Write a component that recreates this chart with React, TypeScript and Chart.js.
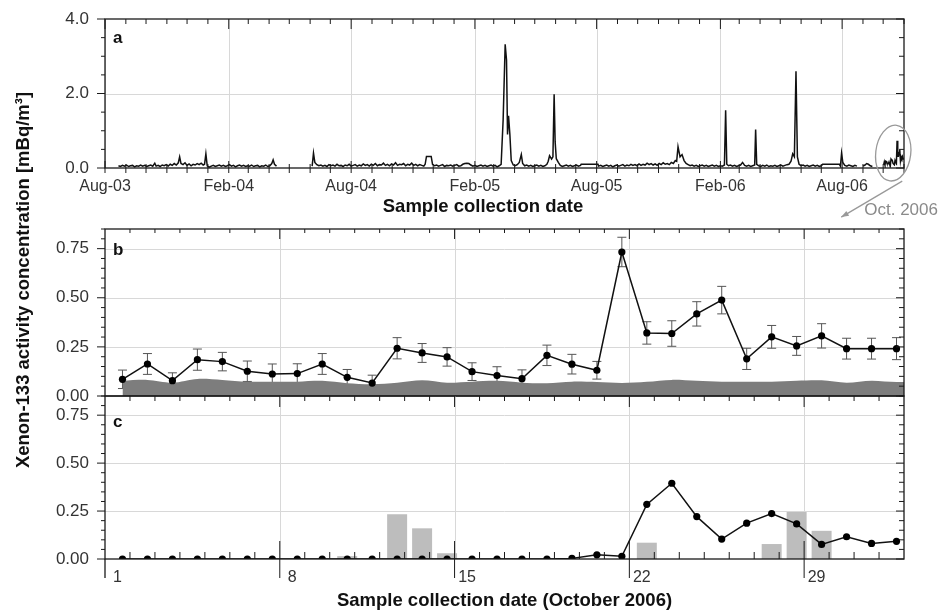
import React, { useEffect, useRef } from 'react';
import { Chart, registerables } from 'chart.js';

Chart.register(...registerables);

const W = 940;
const H = 612;

// ---------------- data ----------------
// Panel a: [days since 1 Aug 2003, Xe-133 activity mBq/m3]; null = gap in record
const panelA: [number, number | null][] = [
  [20,.06],[23,.04],[26,.07],[29,.05],[32,.08],[35,.04],[38,.06],[41,.07],[44,.03],[47,.06],[50,.05],[53,.08],[56,.05],[59,.07],[62,.04],[65,.06],[68,.08],[71,.05],[74,.13],[76,.05],[79,.07],[82,.04],[85,.08],[88,.06],[91,.09],[94,.05],[97,.1],[100,.07],[103,.12],[106,.08],[109,.14],[111,.3],[113,.12],[116,.09],[119,.14],[122,.07],[125,.11],[128,.06],[131,.1],[134,.08],[137,.12],[140,.09],[143,.13],[146,.08],[148,.1],[150,.38],[152,.06],[155,.02],[158,.05],[161,.07],[164,.04],[167,.06],[170,.08],[173,.05],[176,.07],[179,.04],[182,.06],[185,.09],[188,.05],[191,.07],[194,.03],[197,.06],[200,.08],[203,.05],[206,.07],[209,.04],[212,.06],[215,.05],[218,.08],[221,.04],[224,.06],[227,.07],[230,.03],[233,.06],[236,.05],[239,.08],[242,.04],[245,.06],[248,.12],[250,.22],[252,.1],[255,.05],[256,null],
  [308,.05],[310,.4],[312,.15],[315,.09],[318,.06],[321,.08],[324,.05],[327,.07],[330,.04],[333,.09],[336,.06],[339,.08],[342,.05],[345,.1],[348,.06],[351,.07],[354,.04],[357,.08],[360,.06],[363,.1],[366,.05],[369,.07],[372,.09],[375,.05],[378,.08],[381,.06],[384,.11],[387,.07],[390,.09],[393,.05],[396,.1],[399,.07],[402,.12],[405,.06],[408,.09],[411,.08],[414,.13],[417,.07],[420,.1],[423,.06],[426,.11],[429,.08],[432,.14],[435,.07],[438,.1],[441,.09],[444,.12],[447,.06],[450,.1],[453,.08],[456,.13],[459,.07],[462,.1],[465,.06],[468,.09],[471,.07],[474,.05],[476,.1],[478,.31],[485,.31],[487,.1],[490,.06],[493,.08],[496,.05],[499,.07],[502,.09],[505,.04],[508,.07],[511,.06],[514,.08],[517,.05],[520,.07],[523,.09],[526,.05],[529,.06],[532,.1],[535,.12],[538,.13],[541,.12],[544,.08],[547,.05],[550,.07],[553,.04],[556,.06],[559,.08],[562,.05],[565,.07],[568,.04],[571,.06],[574,.08],[577,.05],[580,.07],[583,.03],[586,.06],[589,.1],[592,1.3],[595,3.32],[597,2.9],[598.5,.9],[600,1.4],[602,.9],[604,.2],[607,.08],[610,.06],[613,.09],[616,.15],[619,.36],[621,.12],[624,.06],[627,.08],[630,.05],[633,.07],[636,.04],[639,.06],[642,.08],[645,.05],[648,.07],[651,.04],[654,.06],[657,.1],[659,.18],[661,.33],[664,.24],[666,.3],[667.8,1.98],[669.3,.7],[671,.25],[674,.15],[677,.07],[680,.04],[683,.06],[686,.08],[689,.05],[692,.07],[695,.04],[698,.06],[701,.08],[704,.05],[707,.07],[708,.1],[733,.1],[734,.05],[737,.07],[740,.04],[743,.06],[746,.08],[749,.05],[752,.07],[755,.03],[758,.06],[761,.08],[764,.05],[767,.07],[770,.09],[773,.05],[776,.08],[779,.06],[782,.1],[785,.07],[788,.09],[791,.06],[794,.11],[797,.07],[800,.1],[803,.08],[806,.13],[809,.09],[812,.12],[815,.08],[818,.11],[821,.07],[824,.12],[827,.09],[830,.14],[833,.1],[836,.12],[839,.09],[842,.15],[845,.12],[848,.2],[850,.18],[852,.57],[855,.3],[858,.36],[861,.2],[864,.12],[867,.09],[870,.06],[873,.08],[876,.05],[879,.07],[882,.04],[885,.06],[888,.08],[891,.05],[894,.07],[897,.04],[900,.06],[903,.08],[906,.05],[909,.07],[912,.04],[915,.06],[918,.05],[921,.08],[922.8,1.55],[924.5,.1],[927,.06],[930,.08],[933,.05],[936,.07],[939,.04],[942,.06],[945,.08],[948,.15],[951,.07],[954,.05],[957,.07],[960,.04],[963,.06],[966,.08],[967.4,1.03],[969,.1],[972,.06],[975,.04],[978,.07],[981,.05],[984,.08],[987,.04],[990,.06],[993,.05],[996,.07],[999,.04],[1002,.06],[1005,.08],[1008,.05],[1011,.07],[1014,.09],[1017,.1],[1020,.18],[1022.5,.38],[1025,.3],[1027.4,2.6],[1029.5,.3],[1032,.1],[1035,.06],[1038,.08],[1041,.05],[1044,.07],[1047,.04],[1050,.06],[1053,.08],[1056,.05],[1059,.07],[1062,.04],[1065,.06],[1067,.1],[1092,.1],[1093.5,.05],[1095.2,.4],[1097,.15],[1100,.07],[1103,.05],[1106,.08],[1109,.06],[1112,.04],[1115,.07],[1118,.05],[1119,null],
  [1127,.05],[1130,.08],[1132.5,.12],[1135,.1],[1138,.06],[1141,.04],[1142,null],
];

// October 2006 daily samples (panels b and c)
const octDays = [1,2,3,4,5,6,7,8,9,10,11,12,13,14,15,16,17,18,19,20,21,22,23,24,25,26,27,28,29,30,31,32];
const bValues = [0.085,0.163,0.078,0.185,0.175,0.126,0.112,0.114,0.163,0.095,0.066,0.243,0.219,0.199,0.124,0.104,0.088,0.207,0.162,0.131,0.733,0.321,0.318,0.418,0.488,0.189,0.301,0.255,0.306,0.241,0.241,0.241];
const bErrors = [0.047,0.053,0.04,0.054,0.047,0.052,0.051,0.05,0.053,0.04,0.04,0.054,0.048,0.047,0.045,0.045,0.045,0.052,0.05,0.045,0.075,0.057,0.065,0.062,0.07,0.054,0.058,0.048,0.062,0.053,0.053,0.056];
const mdcDays = [1,2,3,4,5,6,7,8,9,10,11,12,13,14,15,16,17,18,19,20,21,22,23,24,25,26,27,28,29,30,31,32,33];
const mdcValues = [0.078,0.082,0.068,0.087,0.082,0.073,0.073,0.073,0.077,0.065,0.06,0.068,0.08,0.068,0.073,0.077,0.068,0.065,0.073,0.071,0.066,0.072,0.082,0.077,0.073,0.073,0.073,0.078,0.08,0.068,0.078,0.071,0.072];
const cValues = [0,0,0,0,0,0,0,0,0,0,0,0,0,0,0,0,0,0,0.003,0.022,0.014,0.285,0.395,0.221,0.104,0.187,0.237,0.183,0.076,0.116,0.081,0.092];
const cBars = [0,0,0,0,0,0,0,0,0,0.015,0,0.233,0.16,0.03,0,0,0,0,0,0,0,0.085,0,0,0,0,0.078,0.245,0.147,0,0,0];

// tick labels
const aTickLabels = ['Aug-03','Feb-04','Aug-04','Feb-05','Aug-05','Feb-06','Aug-06'];
const aTickDates: [number, number][] = [[2003,7],[2004,1],[2004,7],[2005,1],[2005,7],[2006,1],[2006,7]];
const aYTickValues = [0, 2, 4];
const aYTickLabels = ['0.0', '2.0', '4.0'];
const octTickDays = [1, 8, 15, 22, 29];
const octTickLabels = ['1', '8', '15', '22', '29'];
const bcYTickValues = [0, 0.25, 0.5, 0.75];
const bcYTickLabels = ['0.00', '0.25', '0.50', '0.75'];

// ---------------- layout / style ----------------
const LEFT = 105, RIGHT = 904;
const A_TOP = 19, A_BOTTOM = 168;
const B_TOP = 229, B_BOTTOM = 396;
const C_TOP = 396, C_BOTTOM = 559;
const SAMPLE_OFFSET = 0.7; // samples plotted at collection time within the day
const FONT = '"Liberation Sans", Arial, sans-serif';
const AXIS = '#1a1a1a';
const GRID = '#d8d8d8';
const LABEL = '#333333';

const ORIGIN = Date.UTC(2003, 7, 1);
const dayOf = (y: number, m: number, d: number) => (Date.UTC(y, m, d) - ORIGIN) / 86400000;
const A_MAX = dayOf(2006, 10, 1);
const OCT_START = dayOf(2006, 9, 1) - 1;

const monthTicks: { v: number; major: boolean }[] = [];
for (let y = 2003, m = 7; ; ) {
  const v = dayOf(y, m, 1);
  if (v > A_MAX + 0.5) break;
  monthTicks.push({ v, major: m === 1 || m === 7 });
  m++;
  if (m > 11) { m = 0; y++; }
}

function seg(ctx: CanvasRenderingContext2D, x1: number, y1: number, x2: number, y2: number) {
  ctx.beginPath();
  ctx.moveTo(x1, y1);
  ctx.lineTo(x2, y2);
  ctx.stroke();
}

function drawGrid(chart: any, xs: number[], ys: number[]) {
  const { ctx, chartArea: ca, scales } = chart;
  ctx.save();
  ctx.strokeStyle = GRID;
  ctx.lineWidth = 1;
  xs.forEach((v) => {
    const px = Math.round(scales.x.getPixelForValue(v)) + 0.5;
    seg(ctx, px, ca.top, px, ca.bottom);
  });
  ys.forEach((v) => {
    const py = Math.round(scales.y.getPixelForValue(v)) + 0.5;
    seg(ctx, ca.left, py, ca.right, py);
  });
  ctx.restore();
}

function drawYTicks(ctx: CanvasRenderingContext2D, y: any, ca: any, step: number, majorEvery: number, max: number) {
  for (let i = 0; i * step <= max + 1e-9; i++) {
    const py = y.getPixelForValue(i * step);
    const major = i % majorEvery === 0;
    seg(ctx, ca.left - (major ? 8 : 4), py, ca.left, py);
    seg(ctx, ca.right, py, ca.right - (major ? 8 : 5), py);
  }
}

function drawYLabels(ctx: CanvasRenderingContext2D, y: any, ca: any, values: number[], labels: string[]) {
  ctx.font = `17px ${FONT}`;
  ctx.fillStyle = LABEL;
  ctx.textAlign = 'right';
  ctx.textBaseline = 'middle';
  values.forEach((v, i) => ctx.fillText(labels[i], ca.left - 16, y.getPixelForValue(v)));
}

function drawLetter(ctx: CanvasRenderingContext2D, letter: string, x: number, baseline: number) {
  ctx.font = `bold 17px ${FONT}`;
  ctx.fillStyle = '#111';
  ctx.textAlign = 'left';
  ctx.textBaseline = 'alphabetic';
  ctx.fillText(letter, x, baseline);
}

function baseOptions(top: number, bottom: number, xMin: number, xMax: number, yMax: number): any {
  return {
    animation: false,
    responsive: false,
    devicePixelRatio: 1,
    events: [],
    layout: { padding: { left: LEFT, right: W - RIGHT, top, bottom: H - bottom } },
    scales: {
      x: { type: 'linear', min: xMin, max: xMax, offset: false, display: false },
      y: { type: 'linear', min: 0, max: yMax, display: false },
    },
    plugins: { legend: { display: false }, tooltip: { enabled: false } },
  };
}

// ---------------- panel a ----------------
function makeA(canvas: HTMLCanvasElement) {
  const frame = {
    id: 'frameA',
    beforeDatasetsDraw(chart: any) {
      drawGrid(chart, aTickDates.map(([y, m]) => dayOf(y, m, 1)), [2]);
    },
    afterDatasetsDraw(chart: any) {
      const { ctx, chartArea: ca, scales: { x, y } } = chart;
      ctx.save();
      ctx.strokeStyle = AXIS;
      ctx.lineWidth = 1.3;
      ctx.strokeRect(ca.left, ca.top, ca.right - ca.left, ca.bottom - ca.top);
      ctx.lineWidth = 1;
      monthTicks.forEach((t) => {
        const px = x.getPixelForValue(t.v);
        seg(ctx, px, ca.top, px, ca.top + (t.major ? 10 : 5));
        seg(ctx, px, ca.bottom - (t.major ? 7 : 4), px, ca.bottom + 5);
      });
      drawYTicks(ctx, y, ca, 0.5, 4, 4);
      drawYLabels(ctx, y, ca, aYTickValues, aYTickLabels);
      ctx.font = `16px ${FONT}`;
      ctx.fillStyle = LABEL;
      ctx.textAlign = 'center';
      ctx.textBaseline = 'middle';
      aTickDates.forEach(([yy, m], i) => ctx.fillText(aTickLabels[i], x.getPixelForValue(dayOf(yy, m, 1)), ca.bottom + 19));
      ctx.font = `bold 18.5px ${FONT}`;
      ctx.fillStyle = '#111';
      ctx.fillText('Sample collection date', 483, ca.bottom + 39);
      drawLetter(ctx, 'a', ca.left + 8, ca.top + 24);

      // October 2006 highlight
      const cx = x.getPixelForValue(OCT_START + 16);
      const cy = y.getPixelForValue(0.4);
      ctx.strokeStyle = '#999';
      ctx.fillStyle = '#999';
      ctx.lineWidth = 1.3;
      ctx.beginPath();
      ctx.ellipse(cx, cy, 17.5, 28, 0.12, 0, Math.PI * 2);
      ctx.stroke();
      const x1 = cx + 9, y1 = cy + 28, x2 = cx - 52, y2 = cy + 64;
      seg(ctx, x1, y1, x2, y2);
      const ang = Math.atan2(y2 - y1, x2 - x1);
      ctx.beginPath();
      ctx.moveTo(x2, y2);
      ctx.lineTo(x2 - 8 * Math.cos(ang - 0.35), y2 - 8 * Math.sin(ang - 0.35));
      ctx.lineTo(x2 - 8 * Math.cos(ang + 0.35), y2 - 8 * Math.sin(ang + 0.35));
      ctx.closePath();
      ctx.fill();
      ctx.font = `17px ${FONT}`;
      ctx.fillStyle = '#8a8a8a';
      ctx.textAlign = 'left';
      ctx.textBaseline = 'middle';
      ctx.fillText('Oct. 2006', cx - 29, cy + 57);
      ctx.restore();
    },
  };
  const style = { borderColor: '#111', borderWidth: 1.5, pointRadius: 0, tension: 0, spanGaps: false, fill: false };
  return new Chart(canvas, {
    type: 'line',
    data: {
      datasets: [
        { ...style, data: panelA.map(([d, v]) => ({ x: d, y: v })) },
        { ...style, data: octDays.map((d, i) => ({ x: OCT_START + d + SAMPLE_OFFSET, y: bValues[i] })) },
      ],
    } as any,
    options: baseOptions(A_TOP, A_BOTTOM, 0, A_MAX, 4),
    plugins: [frame],
  });
}

// ---------------- panel b ----------------
function makeB(canvas: HTMLCanvasElement) {
  const frame = {
    id: 'frameB',
    beforeDatasetsDraw(chart: any) {
      drawGrid(chart, [8, 15, 22, 29], [0.25, 0.5, 0.75]);
      const { ctx, scales: { x, y } } = chart;
      ctx.save();
      ctx.strokeStyle = '#555';
      ctx.lineWidth = 1;
      octDays.forEach((d, i) => {
        const px = x.getPixelForValue(d + SAMPLE_OFFSET);
        const y1 = y.getPixelForValue(bValues[i] + bErrors[i]);
        const y2 = y.getPixelForValue(bValues[i] - bErrors[i]);
        seg(ctx, px, y1, px, y2);
        seg(ctx, px - 4.5, y1, px + 4.5, y1);
        seg(ctx, px - 4.5, y2, px + 4.5, y2);
      });
      ctx.restore();
    },
    afterDatasetsDraw(chart: any) {
      const { ctx, chartArea: ca, scales: { x, y } } = chart;
      ctx.save();
      ctx.strokeStyle = AXIS;
      ctx.lineWidth = 1.3;
      ctx.strokeRect(ca.left, ca.top, ca.right - ca.left, ca.bottom - ca.top);
      ctx.lineWidth = 1;
      for (let d = 2; d <= 32; d++) {
        const px = x.getPixelForValue(d);
        const major = octTickDays.includes(d);
        seg(ctx, px, ca.top, px, ca.top + (major ? 10 : 4));
      }
      drawYTicks(ctx, y, ca, 0.05, 5, 0.85);
      drawYLabels(ctx, y, ca, bcYTickValues, bcYTickLabels);
      drawLetter(ctx, 'b', ca.left + 8, ca.top + 26);
      ctx.restore();
    },
  };
  return new Chart(canvas, {
    type: 'line',
    data: {
      datasets: [
        {
          data: octDays.map((d, i) => ({ x: d + SAMPLE_OFFSET, y: bValues[i] })),
          borderColor: '#111', borderWidth: 1.5, pointRadius: 3.6, pointBackgroundColor: '#000',
          pointBorderColor: '#000', pointBorderWidth: 0, tension: 0, fill: false, order: 1,
        },
        {
          data: mdcDays.map((d, i) => ({ x: d + SAMPLE_OFFSET, y: mdcValues[i] })),
          borderColor: 'rgba(0,0,0,0)', borderWidth: 0, backgroundColor: '#7d7d7d',
          pointRadius: 0, tension: 0.3, fill: 'origin', order: 3,
        },
      ],
    } as any,
    options: baseOptions(B_TOP, B_BOTTOM, 1, 33, 0.85),
    plugins: [frame],
  });
}

// ---------------- panel c ----------------
function makeC(canvas: HTMLCanvasElement) {
  const frame = {
    id: 'frameC',
    beforeDatasetsDraw(chart: any) {
      drawGrid(chart, [8, 15, 22, 29], [0.25, 0.5, 0.75]);
    },
    afterDatasetsDraw(chart: any) {
      const { ctx, chartArea: ca, scales: { x, y } } = chart;
      ctx.save();
      ctx.strokeStyle = AXIS;
      ctx.lineWidth = 1.3;
      ctx.strokeRect(ca.left, ca.top, ca.right - ca.left, ca.bottom - ca.top);
      seg(ctx, ca.left, ca.bottom, ca.left, ca.bottom + 19);
      ctx.lineWidth = 1;
      for (let d = 2; d <= 32; d++) {
        const px = x.getPixelForValue(d);
        const major = octTickDays.includes(d);
        seg(ctx, px, ca.top, px, ca.top + (major ? 11 : 5));
        if (major) seg(ctx, px, ca.bottom - 18, px, ca.bottom + 19);
        else seg(ctx, px, ca.bottom - 7, px, ca.bottom);
      }
      drawYTicks(ctx, y, ca, 0.05, 5, 0.85);
      drawYLabels(ctx, y, ca, bcYTickValues, bcYTickLabels);
      ctx.font = `16px ${FONT}`;
      ctx.fillStyle = LABEL;
      ctx.textAlign = 'center';
      ctx.textBaseline = 'middle';
      octTickDays.forEach((d, i) => ctx.fillText(octTickLabels[i], x.getPixelForValue(d + 0.5), ca.bottom + 19));
      ctx.font = `bold 18.5px ${FONT}`;
      ctx.fillStyle = '#111';
      ctx.fillText('Sample collection date (October 2006)', (ca.left + ca.right) / 2, ca.bottom + 42);
      drawLetter(ctx, 'c', ca.left + 8, ca.top + 31);
      // shared y-axis title
      ctx.save();
      ctx.translate(24, 280);
      ctx.rotate(-Math.PI / 2);
      ctx.font = `bold 18.5px ${FONT}`;
      ctx.fillStyle = '#111';
      ctx.textAlign = 'center';
      ctx.textBaseline = 'middle';
      ctx.fillText('Xenon-133 activity concentration [mBq/m³]', 0, 0);
      ctx.restore();
      ctx.restore();
    },
  };
  return new Chart(canvas, {
    type: 'line',
    data: {
      datasets: [
        {
          type: 'line',
          data: octDays.map((d, i) => ({ x: d + SAMPLE_OFFSET, y: cValues[i] })),
          borderColor: '#111', borderWidth: 1.5, pointRadius: 3.6, pointBackgroundColor: '#000',
          pointBorderColor: '#000', pointBorderWidth: 0, tension: 0, fill: false, order: 1,
        },
        {
          type: 'bar',
          data: octDays.map((d, i) => ({ x: d + SAMPLE_OFFSET, y: cBars[i] })),
          backgroundColor: '#bdbdbd', borderWidth: 0, barPercentage: 0.8, categoryPercentage: 1, order: 2,
        },
      ],
    } as any,
    options: baseOptions(C_TOP, C_BOTTOM, 1, 33, 0.85),
    plugins: [frame],
  });
}

export default function App() {
  const refA = useRef<HTMLCanvasElement>(null);
  const refB = useRef<HTMLCanvasElement>(null);
  const refC = useRef<HTMLCanvasElement>(null);
  useEffect(() => {
    document.body.style.margin = '0';
    document.body.style.overflow = 'hidden';
    const charts = [makeA(refA.current!), makeB(refB.current!), makeC(refC.current!)];
    return () => charts.forEach((c) => c.destroy());
  }, []);
  const st: React.CSSProperties = { position: 'absolute', left: 0, top: 0 };
  return (
    <div style={{ position: 'relative', width: W, height: H, background: '#fff' }}>
      <canvas ref={refA} width={W} height={H} style={st} />
      <canvas ref={refB} width={W} height={H} style={st} />
      <canvas ref={refC} width={W} height={H} style={st} />
    </div>
  );
}
